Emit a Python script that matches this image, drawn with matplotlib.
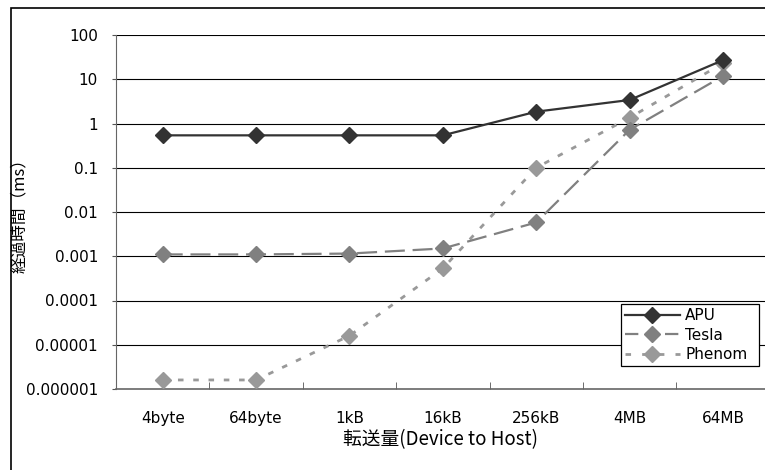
import matplotlib
matplotlib.use('Agg')
import matplotlib.pyplot as plt
from matplotlib.lines import Line2D
from matplotlib.patches import Rectangle
import numpy as np

plt.rcParams['font.family'] = ['DejaVu Sans', 'Noto Sans CJK JP']

# data
sizes = ['4byte', '64byte', '1kB', '16kB', '256kB', '4MB', '64MB']
apu = [0.54, 0.54, 0.54, 0.54, 1.85, 3.4, 27]
tesla = [0.0011, 0.0011, 0.00115, 0.0015, 0.0058, 0.72, 11.8]
phenom = [1.6e-6, 1.6e-6, 1.6e-5, 0.00053, 0.1, 1.35, 23]
yticks = [1e-6, 1e-5, 1e-4, 1e-3, 1e-2, 1e-1, 1, 10, 100]
ylabels = ['0.000001', '0.00001', '0.0001', '0.001', '0.01', '0.1', '1', '10', '100']

fig = plt.figure(figsize=(7.65, 4.70), dpi=100)
ax = fig.add_axes([116 / 765, 1 - 389 / 470, 1 - 116 / 765, (389 - 35) / 470])

# outer chart frame
fig.patches.append(Rectangle((11 / 765, -0.05), 1.2, 1 - 8 / 470 + 0.05,
                             transform=fig.transFigure, fill=False,
                             edgecolor='black', linewidth=1.2, zorder=0))

x = np.arange(len(sizes))
ax.plot(x, apu, color='#333333', lw=1.6, marker='D', ms=8, mec='#333333',
        label='APU', zorder=5)
ax.plot(x, tesla, color='#808080', lw=1.6, dashes=(9, 3.5), marker='D', ms=8,
        mec='#808080', label='Tesla', zorder=4)
ax.plot(x, phenom, color='#999999', lw=2.0, dashes=(2, 3.5), marker='D', ms=8,
        mec='#999999', label='Phenom', zorder=3)

ax.set_yscale('log')
ax.set_ylim(1e-6, 100)
ax.set_xlim(-0.5, 6.45)
ax.set_yticks(yticks)
ax.set_yticklabels(ylabels)
ax.minorticks_off()
ax.set_xticks(x)
ax.set_xticklabels(sizes)
ax.set_xticks(np.arange(0.5, 6.5, 1), minor=True)
ax.tick_params(axis='x', which='major', length=0, pad=16, labelsize=11)
ax.tick_params(axis='x', which='minor', direction='in', length=5, color='#555555')
ax.tick_params(axis='y', length=3, pad=10, labelsize=11, color='#555555')

for yv in yticks[1:]:
    ax.axhline(yv, color='black', lw=0.8, zorder=1)

for s in ['top', 'right']:
    ax.spines[s].set_visible(False)
ax.spines['left'].set_color('#666666')
ax.spines['bottom'].set_color('#666666')
ax.spines['bottom'].set_linewidth(1.2)

ax.set_xlabel('転送量(Device to Host)', fontsize=13.5, labelpad=2,
              family=['Noto Sans CJK JP', 'DejaVu Sans'])
ax.set_ylabel('経過時間（ms）', fontsize=12, labelpad=-2,
              family=['Noto Sans CJK JP', 'DejaVu Sans'])

leg_handles = [
    Line2D([], [], color='#333333', lw=1.6, marker='D', ms=8),
    Line2D([], [], color='#808080', lw=1.6, dashes=(6, 3), marker='D', ms=8),
    Line2D([], [], color='#999999', lw=2.0, dashes=(2, 4), marker='D', ms=8),
]
leg = ax.legend(leg_handles, ['APU', 'Tesla', 'Phenom'], loc='lower left',
                bbox_to_anchor=((621 - 116) / 649, (389 - 366) / 354, 138 / 649, 79 / 354),
                mode='expand', fancybox=False, framealpha=1, edgecolor='black',
                fontsize=11, handlelength=3.6, borderpad=0.25, labelspacing=0.3,
                handletextpad=0.35, borderaxespad=0)
leg.get_frame().set_linewidth(0.9)

fig.savefig('out.png', dpi=100)
